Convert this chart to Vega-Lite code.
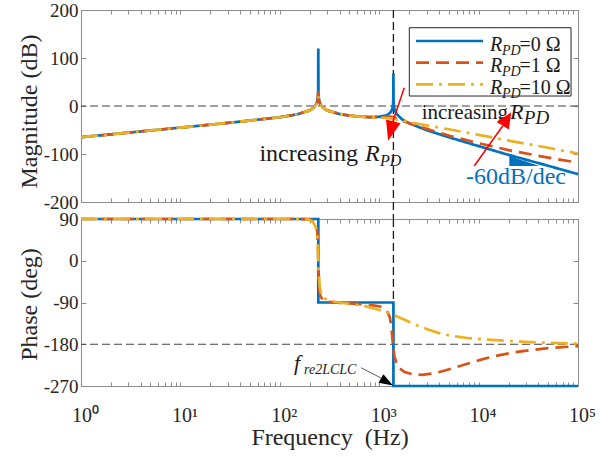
{
"$schema":"https://vega.github.io/schema/vega-lite/v6.json",
"background":"white",
"padding":{"left":16,"top":0,"right":0,"bottom":0},
"bounds":"flush",
"spacing":17,
"config":{
 "font":"Liberation Serif",
 "view":{"stroke":"#8c8c8c","strokeWidth":1},
 "style":{"guide-label":{"font":"Liberation Serif"},"guide-title":{"font":"Liberation Serif","fontWeight":"normal"}},
 "axis":{"domainColor":"#8c8c8c","domainWidth":1,"tickColor":"#8c8c8c","tickWidth":1,"labelColor":"#262626","titleColor":"#262626","labelFont":"Liberation Serif","titleFont":"Liberation Serif","labelFontSize":19,"titleFontSize":24,"titleFontWeight":"normal","grid":false,"labelFlush":false,"labelOverlap":false}
},
"datasets":{
 "mag":[
  {"s":"R0","f":1,"v":-65,"k":0},{"s":"R0","f":3,"v":-55.5,"k":1},{"s":"R0","f":10,"v":-45,"k":2},{"s":"R0","f":30,"v":-35.3,"k":3},{"s":"R0","f":100,"v":-23.4,"k":4},{"s":"R0","f":150,"v":-17.3,"k":5},{"s":"R0","f":200,"v":-9.1,"k":6},{"s":"R0","f":220,"v":-3.4,"k":7},{"s":"R0","f":235,"v":5.5,"k":8},{"s":"R0","f":240,"v":12.7,"k":9},{"s":"R0","f":243,"v":24.8,"k":10},{"s":"R0","f":244,"v":120,"k":11},{"s":"R0","f":245,"v":24.7,"k":12},{"s":"R0","f":248,"v":12.7,"k":13},{"s":"R0","f":255,"v":4.1,"k":14},{"s":"R0","f":270,"v":-3.1,"k":15},{"s":"R0","f":300,"v":-9.2,"k":16},{"s":"R0","f":400,"v":-16.8,"k":17},{"s":"R0","f":500,"v":-19.9,"k":18},{"s":"R0","f":600,"v":-21.7,"k":19},{"s":"R0","f":800,"v":-23.2,"k":20},{"s":"R0","f":1000,"v":-22.6,"k":21},{"s":"R0","f":1200,"v":-18.9,"k":22},{"s":"R0","f":1300,"v":-13.4,"k":23},{"s":"R0","f":1350,"v":-6.9,"k":24},{"s":"R0","f":1375,"v":1.4,"k":25},{"s":"R0","f":1385,"v":10.8,"k":26},{"s":"R0","f":1390,"v":68,"k":27},{"s":"R0","f":1395,"v":10.7,"k":28},{"s":"R0","f":1405,"v":1.1,"k":29},{"s":"R0","f":1430,"v":-7.7,"k":30},{"s":"R0","f":1500,"v":-17.1,"k":31},{"s":"R0","f":1700,"v":-27.8,"k":32},{"s":"R0","f":2000,"v":-36,"k":33},{"s":"R0","f":3000,"v":-50.3,"k":34},{"s":"R0","f":5000,"v":-65,"k":35},{"s":"R0","f":10000,"v":-83.6,"k":36},{"s":"R0","f":20000,"v":-101.8,"k":37},{"s":"R0","f":50000,"v":-124.5,"k":38},{"s":"R0","f":100000,"v":-142,"k":39},
  {"s":"R1","f":1,"v":-65,"k":0},{"s":"R1","f":3,"v":-55.5,"k":1},{"s":"R1","f":10,"v":-45,"k":2},{"s":"R1","f":30,"v":-35.3,"k":3},{"s":"R1","f":100,"v":-23.4,"k":4},{"s":"R1","f":150,"v":-17.3,"k":5},{"s":"R1","f":200,"v":-9.2,"k":6},{"s":"R1","f":220,"v":-3.6,"k":7},{"s":"R1","f":235,"v":5,"k":8},{"s":"R1","f":240,"v":12,"k":9},{"s":"R1","f":242,"v":18,"k":10},{"s":"R1","f":244,"v":38,"k":11},{"s":"R1","f":246,"v":18,"k":12},{"s":"R1","f":248,"v":12,"k":13},{"s":"R1","f":255,"v":4,"k":14},{"s":"R1","f":270,"v":-3.1,"k":15},{"s":"R1","f":300,"v":-9.2,"k":16},{"s":"R1","f":400,"v":-16.8,"k":17},{"s":"R1","f":500,"v":-19.9,"k":18},{"s":"R1","f":600,"v":-21.7,"k":19},{"s":"R1","f":800,"v":-23.3,"k":20},{"s":"R1","f":1000,"v":-23.3,"k":21},{"s":"R1","f":1200,"v":-22.5,"k":22},{"s":"R1","f":1300,"v":-22.3,"k":23},{"s":"R1","f":1390,"v":-23.2,"k":24},{"s":"R1","f":1500,"v":-26,"k":25},{"s":"R1","f":1700,"v":-30.5,"k":26},{"s":"R1","f":2000,"v":-36,"k":27},{"s":"R1","f":3000,"v":-47.5,"k":28},{"s":"R1","f":5000,"v":-61.5,"k":29},{"s":"R1","f":10000,"v":-77.5,"k":30},{"s":"R1","f":20000,"v":-92,"k":31},{"s":"R1","f":50000,"v":-107.5,"k":32},{"s":"R1","f":100000,"v":-118,"k":33},
  {"s":"R10","f":1,"v":-65,"k":0},{"s":"R10","f":3,"v":-55.5,"k":1},{"s":"R10","f":10,"v":-45,"k":2},{"s":"R10","f":30,"v":-35.3,"k":3},{"s":"R10","f":100,"v":-23.4,"k":4},{"s":"R10","f":150,"v":-17.3,"k":5},{"s":"R10","f":200,"v":-9.2,"k":6},{"s":"R10","f":220,"v":-3.7,"k":7},{"s":"R10","f":235,"v":4.8,"k":8},{"s":"R10","f":240,"v":11.5,"k":9},{"s":"R10","f":242,"v":15,"k":10},{"s":"R10","f":244,"v":20,"k":11},{"s":"R10","f":246,"v":15,"k":12},{"s":"R10","f":248,"v":11,"k":13},{"s":"R10","f":255,"v":3.8,"k":14},{"s":"R10","f":270,"v":-3.2,"k":15},{"s":"R10","f":300,"v":-9.3,"k":16},{"s":"R10","f":400,"v":-16.9,"k":17},{"s":"R10","f":500,"v":-20,"k":18},{"s":"R10","f":600,"v":-21.8,"k":19},{"s":"R10","f":800,"v":-23.5,"k":20},{"s":"R10","f":1000,"v":-24,"k":21},{"s":"R10","f":1200,"v":-25,"k":22},{"s":"R10","f":1390,"v":-26.8,"k":23},{"s":"R10","f":1700,"v":-30,"k":24},{"s":"R10","f":2000,"v":-33.5,"k":25},{"s":"R10","f":3000,"v":-40.5,"k":26},{"s":"R10","f":5000,"v":-48.5,"k":27},{"s":"R10","f":10000,"v":-60,"k":28},{"s":"R10","f":20000,"v":-72,"k":29},{"s":"R10","f":50000,"v":-87,"k":30},{"s":"R10","f":100000,"v":-99,"k":31}
 ],
 "ph":[
  {"s":"R0","f":1,"v":90,"k":0},{"s":"R0","f":244,"v":90,"k":1},{"s":"R0","f":244,"v":-90,"k":2},{"s":"R0","f":1390,"v":-90,"k":3},{"s":"R0","f":1390,"v":-270,"k":4},{"s":"R0","f":100000,"v":-270,"k":5},
  {"s":"R1","f":1,"v":90,"k":0},{"s":"R1","f":150,"v":90,"k":1},{"s":"R1","f":200,"v":89,"k":2},{"s":"R1","f":220,"v":86,"k":3},{"s":"R1","f":232,"v":78,"k":4},{"s":"R1","f":238,"v":62,"k":5},{"s":"R1","f":242,"v":30,"k":6},{"s":"R1","f":244,"v":0,"k":7},{"s":"R1","f":246,"v":-30,"k":8},{"s":"R1","f":250,"v":-62,"k":9},{"s":"R1","f":256,"v":-76,"k":10},{"s":"R1","f":270,"v":-84,"k":11},{"s":"R1","f":300,"v":-88,"k":12},{"s":"R1","f":400,"v":-91,"k":13},{"s":"R1","f":600,"v":-93,"k":14},{"s":"R1","f":800,"v":-95,"k":15},{"s":"R1","f":1000,"v":-98,"k":16},{"s":"R1","f":1100,"v":-101,"k":17},{"s":"R1","f":1200,"v":-108,"k":18},{"s":"R1","f":1280,"v":-122,"k":19},{"s":"R1","f":1330,"v":-145,"k":20},{"s":"R1","f":1370,"v":-178,"k":21},{"s":"R1","f":1420,"v":-205,"k":22},{"s":"R1","f":1500,"v":-222,"k":23},{"s":"R1","f":1580,"v":-231,"k":24},{"s":"R1","f":1800,"v":-240,"k":25},{"s":"R1","f":2200,"v":-245,"k":26},{"s":"R1","f":2700,"v":-246,"k":27},{"s":"R1","f":3500,"v":-243,"k":28},{"s":"R1","f":4500,"v":-237,"k":29},{"s":"R1","f":6000,"v":-229,"k":30},{"s":"R1","f":8000,"v":-221,"k":31},{"s":"R1","f":11000,"v":-212,"k":32},{"s":"R1","f":15000,"v":-205,"k":33},{"s":"R1","f":22000,"v":-198,"k":34},{"s":"R1","f":32000,"v":-193,"k":35},{"s":"R1","f":50000,"v":-188.5,"k":36},{"s":"R1","f":100000,"v":-184,"k":37},
  {"s":"R10","f":1,"v":90,"k":0},{"s":"R10","f":150,"v":90,"k":1},{"s":"R10","f":195,"v":89,"k":2},{"s":"R10","f":215,"v":84,"k":3},{"s":"R10","f":230,"v":73,"k":4},{"s":"R10","f":238,"v":55,"k":5},{"s":"R10","f":242,"v":25,"k":6},{"s":"R10","f":244,"v":0,"k":7},{"s":"R10","f":247,"v":-30,"k":8},{"s":"R10","f":252,"v":-55,"k":9},{"s":"R10","f":260,"v":-70,"k":10},{"s":"R10","f":280,"v":-81,"k":11},{"s":"R10","f":330,"v":-87,"k":12},{"s":"R10","f":400,"v":-90,"k":13},{"s":"R10","f":500,"v":-93,"k":14},{"s":"R10","f":700,"v":-97,"k":15},{"s":"R10","f":960,"v":-105,"k":16},{"s":"R10","f":1200,"v":-111,"k":17},{"s":"R10","f":1390,"v":-117,"k":18},{"s":"R10","f":1800,"v":-127,"k":19},{"s":"R10","f":2250,"v":-137,"k":20},{"s":"R10","f":3000,"v":-147,"k":21},{"s":"R10","f":4000,"v":-156,"k":22},{"s":"R10","f":5300,"v":-162,"k":23},{"s":"R10","f":8000,"v":-167,"k":24},{"s":"R10","f":12400,"v":-170,"k":25},{"s":"R10","f":26500,"v":-174.5,"k":26},{"s":"R10","f":50000,"v":-177,"k":27},{"s":"R10","f":100000,"v":-178.5,"k":28}
 ],
 "legline":[{"s":"R0","f1":2345,"f2":11070,"v":135.4},{"s":"R1","f1":2345,"f2":11070,"v":90.2},{"s":"R10","f1":2345,"f2":11070,"v":45.2}]
},
"vconcat":[
 {
  "width":497,"height":192,
  "resolve":{"axis":{"x":"independent","y":"independent"}},
  "layer":[
   {"data":{"values":[{}]},
    "mark":{"type":"rule","color":"#1a1a1a","strokeWidth":1.3,"strokeDash":[8,4]},
    "encoding":{"x":{"datum":1390,"type":"quantitative","scale":{"type":"log","domain":[1,100000],"nice":false},"axis":{"orient":"top","values":[1,2,3,4,5,6,7,8,9,10,20,30,40,50,60,70,80,90,100,200,300,400,500,600,700,800,900,1000,2000,3000,4000,5000,6000,7000,8000,9000,10000,20000,30000,40000,50000,60000,70000,80000,90000,100000],"labels":false,"tickSize":-4,"title":null}},
     "y":{"datum":200,"type":"quantitative","axis":null},"y2":{"datum":-236}}},
   {"data":{"values":[{}]},
    "mark":{"type":"rule","color":"#404040","strokeWidth":1,"strokeDash":[8,4]},
    "encoding":{"y":{"datum":0,"type":"quantitative","scale":{"domain":[-200,200],"nice":false,"zero":false},"axis":{"orient":"right","values":[-200,-100,0,100,200],"labels":false,"tickSize":-5,"title":null}}}},
   {"data":{"name":"mag"},
    "mark":{"type":"line","strokeWidth":2.7},
    "encoding":{
     "x":{"field":"f","type":"quantitative","scale":{"type":"log","domain":[1,100000],"nice":false},"axis":{"orient":"bottom","values":[1,2,3,4,5,6,7,8,9,10,20,30,40,50,60,70,80,90,100,200,300,400,500,600,700,800,900,1000,2000,3000,4000,5000,6000,7000,8000,9000,10000,20000,30000,40000,50000,60000,70000,80000,90000,100000],"labels":false,"tickSize":-4,"title":null}},
     "y":{"field":"v","type":"quantitative","scale":{"domain":[-200,200],"nice":false,"zero":false},"axis":{"orient":"left","values":[-200,-100,0,100,200],"labelExpr":"'' + datum.value","labelFont":"Liberation Serif","titleFont":"Liberation Serif","tickSize":-5,"labelPadding":8,"labelBaseline":"middle","title":"Magnitude (dB)","titleX":-45,"titleY":101,"titleBaseline":"alphabetic","titleAlign":"center","titleAngle":270}},
     "color":{"field":"s","type":"nominal","scale":{"domain":["R0","R1","R10"],"range":["#0072BD","#D95319","#EDB120"]},"legend":null},
     "strokeDash":{"field":"s","type":"nominal","scale":{"domain":["R0","R1","R10"],"range":[[1,0],[13,7],[17,6,3,6]]},"legend":null},
     "order":{"field":"k","type":"quantitative"}
    }},
   {"data":{"values":[{"f1":2009,"f2":85100,"v1":163.1,"v2":20.8}]},
    "mark":{"type":"rect","fill":"white","stroke":"#262626","strokeWidth":1},
    "encoding":{"x":{"field":"f1","type":"quantitative","axis":null},"x2":{"field":"f2"},"y":{"field":"v1","type":"quantitative","axis":null},"y2":{"field":"v2"}}},
   {"data":{"name":"legline"},
    "mark":{"type":"rule","strokeWidth":2.7},
    "encoding":{"x":{"field":"f1","type":"quantitative","axis":null},"x2":{"field":"f2"},"y":{"field":"v","type":"quantitative","axis":null},
     "color":{"field":"s","type":"nominal","legend":null},"strokeDash":{"field":"s","type":"nominal","legend":null}}},
   {"data":{"values":[{"f":13030,"v":114.6},{"f":13030,"v":69.8},{"f":13030,"v":25.0}]},
    "mark":{"type":"text","text":"R","font":"Liberation Serif","fontStyle":"italic","fontSize":20,"align":"left","baseline":"alphabetic","color":"#1a1a1a"},
    "encoding":{"x":{"field":"f","type":"quantitative","axis":null},"y":{"field":"v","type":"quantitative","axis":null}}},
   {"data":{"values":[{"f":17200,"v":106.2},{"f":17200,"v":61.5},{"f":17200,"v":16.7}]},
    "mark":{"type":"text","text":"PD","font":"Liberation Serif","fontStyle":"italic","fontSize":14,"align":"left","baseline":"alphabetic","color":"#1a1a1a"},
    "encoding":{"x":{"field":"f","type":"quantitative","axis":null},"y":{"field":"v","type":"quantitative","axis":null}}},
   {"data":{"values":[{"f":25790,"v":114.6,"t":"=0 Ω"},{"f":25790,"v":69.8,"t":"=1 Ω"},{"f":25790,"v":25.0,"t":"=10 Ω"}]},
    "mark":{"type":"text","font":"Liberation Serif","fontSize":20,"align":"left","baseline":"alphabetic","color":"#1a1a1a"},
    "encoding":{"x":{"field":"f","type":"quantitative","axis":null},"y":{"field":"v","type":"quantitative","axis":null},"text":{"field":"t"}}},
   {"data":{"values":[{"f":612,"v":-114.6,"t":"increasing"}]},
    "mark":{"type":"text","font":"Liberation Serif","fontSize":24,"align":"right","baseline":"alphabetic","color":"#1a1a1a"},
    "encoding":{"x":{"field":"f","type":"quantitative","axis":null},"y":{"field":"v","type":"quantitative","axis":null},"text":{"field":"t"}}},
   {"data":{"values":[{"f":719.5,"v":-114.6}]},
    "mark":{"type":"text","text":"R","font":"Liberation Serif","fontStyle":"italic","fontSize":24,"align":"left","baseline":"alphabetic","color":"#1a1a1a"},
    "encoding":{"x":{"field":"f","type":"quantitative","axis":null},"y":{"field":"v","type":"quantitative","axis":null}}},
   {"data":{"values":[{"f":1019,"v":-125}]},
    "mark":{"type":"text","text":"PD","font":"Liberation Serif","fontStyle":"italic","fontSize":16,"align":"left","baseline":"alphabetic","color":"#1a1a1a"},
    "encoding":{"x":{"field":"f","type":"quantitative","axis":null},"y":{"field":"v","type":"quantitative","axis":null}}},
   {"data":{"values":[{"f":19760,"v":-27.1,"t":"increasing"}]},
    "mark":{"type":"text","font":"Liberation Serif","fontSize":21,"align":"right","baseline":"alphabetic","color":"#1a1a1a"},
    "encoding":{"x":{"field":"f","type":"quantitative","axis":null},"y":{"field":"v","type":"quantitative","axis":null},"text":{"field":"t"}}},
   {"data":{"values":[{"f":20700,"v":-27.1}]},
    "mark":{"type":"text","text":"R","font":"Liberation Serif","fontStyle":"italic","fontSize":22,"align":"left","baseline":"alphabetic","color":"#1a1a1a"},
    "encoding":{"x":{"field":"f","type":"quantitative","axis":null},"y":{"field":"v","type":"quantitative","axis":null}}},
   {"data":{"values":[{"f":28500,"v":-37.5}]},
    "mark":{"type":"text","text":"PD","font":"Liberation Serif","fontStyle":"italic","fontSize":19,"align":"left","baseline":"alphabetic","color":"#1a1a1a"},
    "encoding":{"x":{"field":"f","type":"quantitative","axis":null},"y":{"field":"v","type":"quantitative","axis":null}}},
   {"data":{"values":[{"f":7470,"v":-162.5,"t":"-60dB/dec"}]},
    "mark":{"type":"text","font":"Liberation Serif","fontSize":24,"align":"left","baseline":"alphabetic","color":"#0072BD"},
    "encoding":{"x":{"field":"f","type":"quantitative","axis":null},"y":{"field":"v","type":"quantitative","axis":null},"text":{"field":"t"}}},
   {"data":{"values":[{"f":20370,"a":-104.2,"b":-125},{"f":40830,"a":-125,"b":-125}]},
    "mark":{"type":"area","color":"#0072BD","opacity":1},
    "encoding":{"x":{"field":"f","type":"quantitative","axis":null},"y":{"field":"a","type":"quantitative","axis":null},"y2":{"field":"b"}}},
   {"data":{"values":[{"f1":1788,"v1":38.1,"f2":1377,"v2":-31.2},{"f1":9050,"v1":-125,"f2":17520,"v2":-41.2}]},
    "mark":{"type":"rule","color":"#FF0000","strokeWidth":1.5},
    "encoding":{"x":{"field":"f1","type":"quantitative","axis":null},"y":{"field":"v1","type":"quantitative","axis":null},"x2":{"field":"f2"},"y2":{"field":"v2"}}},
   {"data":{"values":[{"f":1305,"v":-52.1}]},
    "mark":{"type":"point","shape":"M-0.75,-1L0.75,-1L0,1Z","size":400,"filled":true,"color":"#FF0000","opacity":1,"angle":15,"strokeWidth":0},
    "encoding":{"x":{"field":"f","type":"quantitative","axis":null},"y":{"field":"v","type":"quantitative","axis":null}}},
   {"data":{"values":[{"f":19310,"v":-27.1}]},
    "mark":{"type":"point","shape":"M-0.9,1L0.9,1L0,-1Z","size":256,"filled":true,"color":"#FF0000","opacity":1,"angle":32,"strokeWidth":0},
    "encoding":{"x":{"field":"f","type":"quantitative","axis":null},"y":{"field":"v","type":"quantitative","axis":null}}}
  ]
 },
 {
  "width":497,"height":167,
  "resolve":{"axis":{"x":"independent","y":"independent"}},
  "layer":[
   {"data":{"values":[{}]},
    "mark":{"type":"rule","color":"#1a1a1a","strokeWidth":1.3,"strokeDash":[8,4]},
    "encoding":{"x":{"datum":1390,"type":"quantitative","scale":{"type":"log","domain":[1,100000],"nice":false},"axis":{"orient":"top","values":[1,2,3,4,5,6,7,8,9,10,20,30,40,50,60,70,80,90,100,200,300,400,500,600,700,800,900,1000,2000,3000,4000,5000,6000,7000,8000,9000,10000,20000,30000,40000,50000,60000,70000,80000,90000,100000],"labels":false,"tickSize":-4,"title":null}}}},
   {"data":{"values":[{}]},
    "mark":{"type":"rule","color":"#404040","strokeWidth":1,"strokeDash":[8,4]},
    "encoding":{"y":{"datum":-180,"type":"quantitative","scale":{"domain":[-270,90],"nice":false,"zero":false},"axis":{"orient":"right","values":[-270,-180,-90,0,90],"labels":false,"tickSize":-5,"title":null}}}},
   {"data":{"name":"ph"},
    "mark":{"type":"line","strokeWidth":2.7},
    "encoding":{
     "x":{"field":"f","type":"quantitative","scale":{"type":"log","domain":[1,100000],"nice":false},"axis":{"orient":"bottom","values":[1,2,3,4,5,6,7,8,9,10,20,30,40,50,60,70,80,90,100,200,300,400,500,600,700,800,900,1000,2000,3000,4000,5000,6000,7000,8000,9000,10000,20000,30000,40000,50000,60000,70000,80000,90000,100000],"labelExpr":"datum.value == 1 ? '10⁰' : datum.value == 10 ? '10¹' : datum.value == 100 ? '10²' : datum.value == 1000 ? '10³' : datum.value == 10000 ? '10⁴' : datum.value == 100000 ? '10⁵' : ''","labelFont":"Liberation Serif","titleFont":"Liberation Serif","labelFontSize":20,"tickSize":-4,"labelPadding":39,"labelBaseline":"alphabetic","labelAlign":"center","labelOffset":4,"title":"Frequency\u00a0 (Hz)","titleX":248.5,"titleY":58,"titleBaseline":"alphabetic","titleAlign":"center"}},
     "y":{"field":"v","type":"quantitative","scale":{"domain":[-270,90],"nice":false,"zero":false},"axis":{"orient":"left","values":[-270,-180,-90,0,90],"labelExpr":"'' + datum.value","labelFont":"Liberation Serif","titleFont":"Liberation Serif","tickSize":-5,"labelPadding":8,"labelBaseline":"middle","title":"Phase (deg)","titleX":-45,"titleY":85,"titleBaseline":"alphabetic","titleAlign":"center","titleAngle":270}},
     "color":{"field":"s","type":"nominal","scale":{"domain":["R0","R1","R10"],"range":["#0072BD","#D95319","#EDB120"]},"legend":null},
     "strokeDash":{"field":"s","type":"nominal","scale":{"domain":["R0","R1","R10"],"range":[[1,0],[13,7],[17,6,3,6]]},"legend":null},
     "order":{"field":"k","type":"quantitative"}
    }},
   {"data":{"values":[{"f1":656,"v1":-230.5,"f2":1043,"v2":-252.8}]},
    "mark":{"type":"rule","color":"#333333","strokeWidth":0.8},
    "encoding":{"x":{"field":"f1","type":"quantitative","axis":null},"y":{"field":"v1","type":"quantitative","axis":null},"x2":{"field":"f2"},"y2":{"field":"v2"}}},
   {"data":{"values":[{"f":1198,"v":-261.4}]},
    "mark":{"type":"point","shape":"M-1,-0.7L1,0L-1,0.7Z","size":196,"filled":true,"color":"#000000","opacity":1,"angle":30,"strokeWidth":0},
    "encoding":{"x":{"field":"f","type":"quantitative","axis":null},"y":{"field":"v","type":"quantitative","axis":null}}},
   {"data":{"values":[{"f":139,"v":-235.5}]},
    "mark":{"type":"text","text":"f","font":"Liberation Serif","fontStyle":"italic","fontSize":22,"align":"left","baseline":"alphabetic","color":"#1a1a1a"},
    "encoding":{"x":{"field":"f","type":"quantitative","axis":null},"y":{"field":"v","type":"quantitative","axis":null}}},
   {"data":{"values":[{"f":175.2,"v":-244.1}]},
    "mark":{"type":"text","text":"re2LCLC","font":"Liberation Serif","fontStyle":"italic","fontSize":14,"align":"left","baseline":"alphabetic","color":"#1a1a1a"},
    "encoding":{"x":{"field":"f","type":"quantitative","axis":null},"y":{"field":"v","type":"quantitative","axis":null}}}
  ]
 }
]
}
